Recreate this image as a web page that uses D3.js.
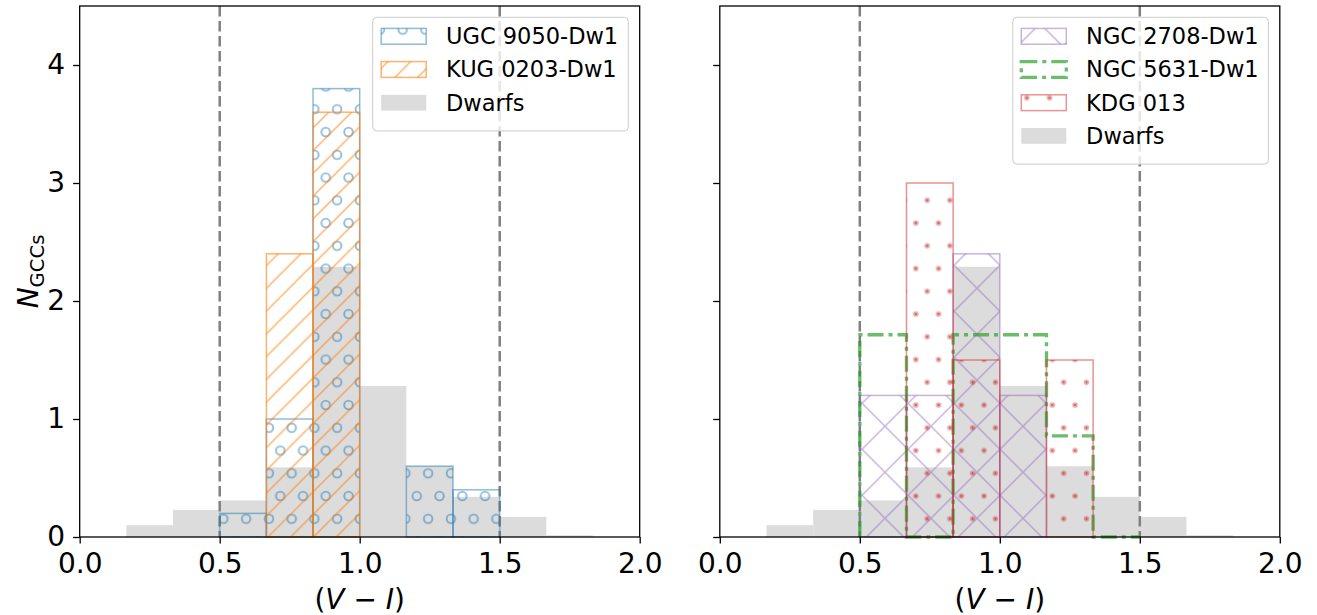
<!DOCTYPE html>
<html>
<head>
<meta charset="utf-8">
<script src="https://cdn.jsdelivr.net/npm/d3@7"></script>
<style>
  body { margin: 0; background: #fff; }
  text { font-family: "DejaVu Sans", sans-serif; }
</style>
</head>
<body>
<svg id="chart" width="1317" height="615"></svg>
<script>
// ---- data (normalised histograms, bin width 1/6) ----
const xTicks = [0.0, 0.5, 1.0, 1.5, 2.0];
const yTicks = [0, 1, 2, 3, 4];
const colourLimits = [0.5, 1.5];

const dwarfEdges = [0.1667, 0.3333, 0.5, 0.6667, 0.8333, 1.0, 1.1667, 1.3333, 1.5, 1.6667, 1.8333];
const dwarfs     = [0.10, 0.23, 0.31, 0.59, 2.29, 1.28, 0.60, 0.34, 0.17, 0.015];

const galEdges = [0.5, 0.6667, 0.8333, 1.0, 1.1667, 1.3333, 1.5];
const ugc9050  = [0.2, 1.0, 3.8, 0, 0.6, 0.4];
const kug0203  = [0, 2.4, 3.6, 0, 0, 0];
const ngc2708  = [1.2, 1.2, 2.4, 1.2, 0, 0];
const ngc5631  = [1.714, 0, 1.714, 1.714, 0.857, 0];
const kdg013   = [0, 3.0, 1.5, 0, 1.5, 0];

// ---- layout ----
const svg = d3.select("#chart");
const W = 560, H = 531;
const x = d3.scaleLinear().domain([0, 2]).range([0, W]);
const y = d3.scaleLinear().domain([0, 4.5]).range([H, 0]);

const rgba = (hex, a) => { const c = d3.rgb(hex); c.opacity = a; return c.toString(); };
const cBlue = rgba("#1f77b4", 0.5), cOrange = rgba("#ff7f0e", 0.6),
      cPurple = rgba("#9467bd", 0.5), cGreen = rgba("#2ca02c", 0.7), cRed = rgba("#d62728", 0.5);
const grey = "#dcdcdc";

// hatch patterns (anchored in panel coordinates)
const defs = svg.append("defs");
const s = 22.75;

var pO = defs.append("pattern").attr("id", "hatch-o").attr("patternUnits", "userSpaceOnUse")
    .attr("x", 143.7).attr("y", 512.8).attr("width", s).attr("height", 2 * s);
[[0, 0], [s, 0], [0, 2 * s], [s, 2 * s], [s / 2, s]].forEach(p =>
    pO.append("circle").attr("cx", p[0]).attr("cy", p[1]).attr("r", 4.3)
      .attr("fill", "none").attr("stroke", cBlue).attr("stroke-width", 1.9));

var pDot = defs.append("pattern").attr("id", "hatch-dot").attr("patternUnits", "userSpaceOnUse")
    .attr("x", 332.5).attr("y", 399).attr("width", s).attr("height", 2 * s);
[[0, 0], [s, 0], [0, 2 * s], [s, 2 * s], [s / 2, s]].forEach(p => {
    pDot.append("circle").attr("cx", p[0]).attr("cy", p[1]).attr("r", 2.8)
        .attr("fill", "#d62728").attr("fill-opacity", 0.4);
    pDot.append("circle").attr("cx", p[0]).attr("cy", p[1]).attr("r", 0.9)
        .attr("fill", "#7a1c1c").attr("fill-opacity", 0.6);
});

var pSl = defs.append("pattern").attr("id", "hatch-slash").attr("patternUnits", "userSpaceOnUse")
    .attr("x", 0).attr("y", 446.25).attr("width", s).attr("height", s);
pSl.append("path").attr("d", `M-2,${s + 2}L${s + 2},-2 M-2,2L2,-2 M${s - 2},${s + 2}L${s + 2},${s - 2}`)
    .attr("stroke", cOrange).attr("stroke-width", 1.5);

const sx = 46;
var pX = defs.append("pattern").attr("id", "hatch-x").attr("patternUnits", "userSpaceOnUse")
    .attr("x", 280.2).attr("y", 397.3).attr("width", sx).attr("height", sx);
pX.append("path").attr("d", `M-2,-2L${sx + 2},${sx + 2} M-2,${sx + 2}L${sx + 2},-2`)
    .attr("stroke", cPurple).attr("stroke-width", 1.5);

const dashDot = "16,5,4,5";

function bars(g, edges, values, style) {
    var data = values.map((v, i) => ({ x0: edges[i], x1: edges[i + 1] !== undefined ? edges[i + 1] : edges[i] + (edges[1] - edges[0]), v: v }))
        .filter(d => d.v > 0);
    g.append("g").selectAll("rect").data(data).join("rect")
        .attr("x", d => x(d.x0))
        .attr("y", d => y(d.v))
        .attr("width", d => x(d.x1) - x(d.x0))
        .attr("height", d => y(0) - y(d.v))
        .attr("fill", style.fill)
        .attr("stroke", style.stroke || "none")
        .attr("stroke-width", style.width || 0);
}

function step(g, edges, values, colour) {
    var pts = [[edges[0], 0]];
    values.forEach((v, i) => { pts.push([edges[i], v]); pts.push([edges[i + 1], v]); });
    pts.push([edges[edges.length - 1], 0]);
    g.append("path")
        .attr("d", d3.line().x(d => x(d[0])).y(d => y(d[1]))(pts))
        .attr("fill", "none").attr("stroke", colour).attr("stroke-width", 3.3)
        .attr("stroke-dasharray", dashDot);
}

function panel(tx, series, legendItems, showYLabels) {
    var g = svg.append("g").attr("transform", `translate(${tx},6)`);

    // dwarf comparison sample
    bars(g, dwarfEdges, dwarfs, { fill: grey });

    // colour limits
    g.append("g").selectAll("line").data(colourLimits).join("line")
        .attr("x1", d => x(d)).attr("x2", d => x(d))
        .attr("y1", 0).attr("y2", H)
        .attr("stroke", "#808080").attr("stroke-width", 2.5)
        .attr("stroke-dasharray", "10.5,4.5");

    series.forEach(sr => {
        if (sr.kind == "step") step(g, galEdges, sr.values, sr.colour);
        else bars(g, galEdges, sr.values, { fill: sr.fill, stroke: sr.colour, width: 1.5 });
    });

    // legend
    var lg = g.append("g").attr("transform", "translate(293,11.3)");
    var lh = 14 + legendItems.length * 33.2;
    lg.append("rect").attr("width", 255.6).attr("height", lh).attr("rx", 4)
        .attr("fill", "#fff").attr("fill-opacity", 0.8)
        .attr("stroke", "#cccccc").attr("stroke-width", 1);
    legendItems.forEach((it, i) => {
        var cy = 19 + i * 33.2;
        var r = lg.append("rect").attr("x", 8.5).attr("y", cy - 7.9).attr("width", 45).attr("height", 15.8);
        if (it.kind == "step") {
            r.attr("fill", "none").attr("stroke", it.colour).attr("stroke-width", 3.3).attr("stroke-dasharray", dashDot);
        } else if (it.kind == "grey") {
            r.attr("fill", grey);
        } else {
            r.attr("fill", it.fill).attr("stroke", it.colour).attr("stroke-width", 1.5);
        }
        lg.append("text").attr("x", 73.3).attr("y", cy + 8)
            .attr("font-size", 22.5).attr("fill", "#000").text(it.name);
    });

    // axes
    var xa = g.append("g").attr("transform", `translate(0,${H})`)
        .call(d3.axisBottom(x).tickValues(xTicks).tickFormat(d3.format(".1f")).tickSize(6.6).tickPadding(9.9));
    var ya = g.append("g")
        .call(d3.axisLeft(y).tickValues(yTicks).tickSize(6.6).tickPadding(8.1)
            .tickFormat(showYLabels ? d3.format("d") : () => ""));
    [xa, ya].forEach(a => {
        a.select(".domain").remove();
        a.selectAll("line").attr("stroke", "#000").attr("stroke-width", 1.3);
        a.selectAll("text").attr("font-size", 28).attr("font-family", "DejaVu Sans").attr("fill", "#000");
    });

    g.append("rect").attr("width", W).attr("height", H)
        .attr("fill", "none").attr("stroke", "#000").attr("stroke-width", 1.3);

    // x label
    var xl = g.append("text").attr("x", W / 2).attr("y", 603).attr("text-anchor", "middle")
        .attr("font-size", 28).attr("fill", "#000");
    xl.append("tspan").text("(");
    xl.append("tspan").attr("font-style", "italic").text("V");
    xl.append("tspan").text(" \u2212 ");
    xl.append("tspan").attr("font-style", "italic").text("I");
    xl.append("tspan").text(")");

    if (showYLabels) {
        var yl = g.append("text").attr("transform", `translate(${38 - tx},${271.5 - 6}) rotate(-90)`)
            .attr("text-anchor", "middle").attr("font-size", 28).attr("fill", "#000");
        yl.append("tspan").attr("font-style", "italic").text("N");
        yl.append("tspan").attr("font-size", 19.6).attr("dy", 6).text("GCCs");
    }
}

panel(79.7,
    [
        { values: ugc9050, colour: cBlue, fill: "url(#hatch-o)" },
        { values: kug0203, colour: cOrange, fill: "url(#hatch-slash)" }
    ],
    [
        { name: "UGC 9050-Dw1", colour: cBlue, fill: "url(#hatch-o)" },
        { name: "KUG 0203-Dw1", colour: cOrange, fill: "url(#hatch-slash)" },
        { name: "Dwarfs", kind: "grey" }
    ], true);

panel(719.8,
    [
        { values: ngc2708, colour: cPurple, fill: "url(#hatch-x)" },
        { values: ngc5631, colour: cGreen, kind: "step" },
        { values: kdg013, colour: cRed, fill: "url(#hatch-dot)" }
    ],
    [
        { name: "NGC 2708-Dw1", colour: cPurple, fill: "url(#hatch-x)" },
        { name: "NGC 5631-Dw1", colour: cGreen, kind: "step" },
        { name: "KDG 013", colour: cRed, fill: "url(#hatch-dot)" },
        { name: "Dwarfs", kind: "grey" }
    ], false);
</script>
</body>
</html>
